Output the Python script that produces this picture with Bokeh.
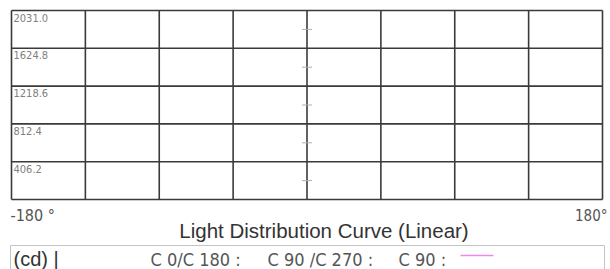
from bokeh.plotting import figure
from bokeh.models import Range1d, ColumnDataSource
from bokeh.core.properties import value
from bokeh.embed import file_html
from bokeh.resources import INLINE

# ---- data ----
x_ticks = [-180, -135, -90, -45, 0, 45, 90, 135, 180]
y_ticks = [0.0, 406.2, 812.4, 1218.6, 1624.8, 2031.0]
y_labels = ["406.2", "812.4", "1218.6", "1624.8", "2031.0"]
x_min_label = "-180 °"
x_max_label = "180°"
chart_title = "Light Distribution Curve (Linear)"
unit_label = "(cd) |"
legend_labels = ["C 0/C 180 :", "C 90 /C 270 :", "C 90 :"]

# ---- layout (pixels) ----
NARROW = "DejaVu Sans Condensed"
W, H = 610, 269
GL, GR, GT, GB = 11, 602, 10, 199          # grid box edges
xs = (x_ticks[-1] - x_ticks[0]) / (GR - GL)
ys = (y_ticks[-1] - y_ticks[0]) / (GB - GT)
x_start = x_ticks[0] - GL * xs
x_end = x_ticks[-1] + (W - GR) * xs
y_end = y_ticks[-1] + GT * ys
y_start = y_ticks[0] - (H - GB) * ys


def px(x):
    return x_start + x * xs


def py(y):
    return y_end - y * ys


p = figure(width=W, height=H, output_backend="svg", toolbar_location=None,
           x_range=Range1d(x_start, x_end), y_range=Range1d(y_start, y_end),
           x_axis_type=None, y_axis_type=None,
           min_border_left=0, min_border_right=0, min_border_top=0, min_border_bottom=0)
p.outline_line_color = None
p.background_fill_color = "white"
p.border_fill_color = "white"
p.xgrid.visible = False
p.ygrid.visible = False

# grid lines (from tick arrays)
n_x, n_y = len(x_ticks), len(y_ticks)
p.segment(x0=x_ticks, y0=[y_ticks[0]] * n_x, x1=x_ticks, y1=[y_ticks[-1]] * n_x,
          line_color="#3a3a3a", line_width=1.6)
p.segment(x0=[x_ticks[0]] * n_y, y0=y_ticks, x1=[x_ticks[-1]] * n_y, y1=y_ticks,
          line_color="#3a3a3a", line_width=1.6)

# value labels inside rows
lab_src = ColumnDataSource(dict(x=[x_ticks[0]] * len(y_labels), y=y_ticks[1:], t=y_labels))
p.text(x="x", y="y", text="t", source=lab_src, x_offset=2, y_offset=3,
       text_baseline="top", text_align="left", text_font=value(NARROW),
       text_font_size="11px", text_color="#808080")

# small dashes on centre line at mid-rows
mids = [(a + b) / 2 for a, b in zip(y_ticks[:-1], y_ticks[1:])]
p.scatter(x=[x_ticks[4]] * len(mids), y=mids, marker="dash", size=10,
          line_color="#b0b0b0", line_width=1)

# axis end labels + title
p.text(x=[x_ticks[0]], y=[y_ticks[0]], text=[x_min_label], x_offset=-1, y_offset=16,
       text_baseline="alphabetic", text_align="left",
       text_font=value(NARROW), text_font_size="16px", text_color="#555555")
p.text(x=[x_ticks[-1]], y=[y_ticks[0]], text=[x_max_label], x_offset=5, y_offset=16,
       text_baseline="alphabetic", text_align="right",
       text_font=value(NARROW), text_font_size="15px", text_color="#555555")
p.text(x=[x_ticks[4]], y=[y_ticks[0]], text=[chart_title], x_offset=17, y_offset=31,
       text_baseline="alphabetic", text_align="center",
       text_font=value("Liberation Sans"), text_font_size="20.5px", text_color="#333333")

# legend strip
p.quad(left=[px(10)], right=[px(604)], top=[py(245)], bottom=[py(275)],
       fill_color=None, line_color="#c4c4c4", line_width=1)
p.text(x=[px(13)], y=[py(258.5)], text=[unit_label], text_baseline="alphabetic", text_align="left",
       text_font=value("Liberation Sans"), text_font_size="20px", text_color="#333333")
leg_px = [150, 267, 398]
p.text(x=[px(v) for v in leg_px], y=[py(258.5)] * 3, text=legend_labels,
       text_baseline="alphabetic", text_align="left",
       text_font=value(NARROW), text_font_size="18px", text_color="#555555")
p.line(x=[px(460), px(493)], y=[py(255), py(255)], line_color="#ee88ee", line_width=1.5)

open("out.html", "w").write(file_html(p, INLINE))
